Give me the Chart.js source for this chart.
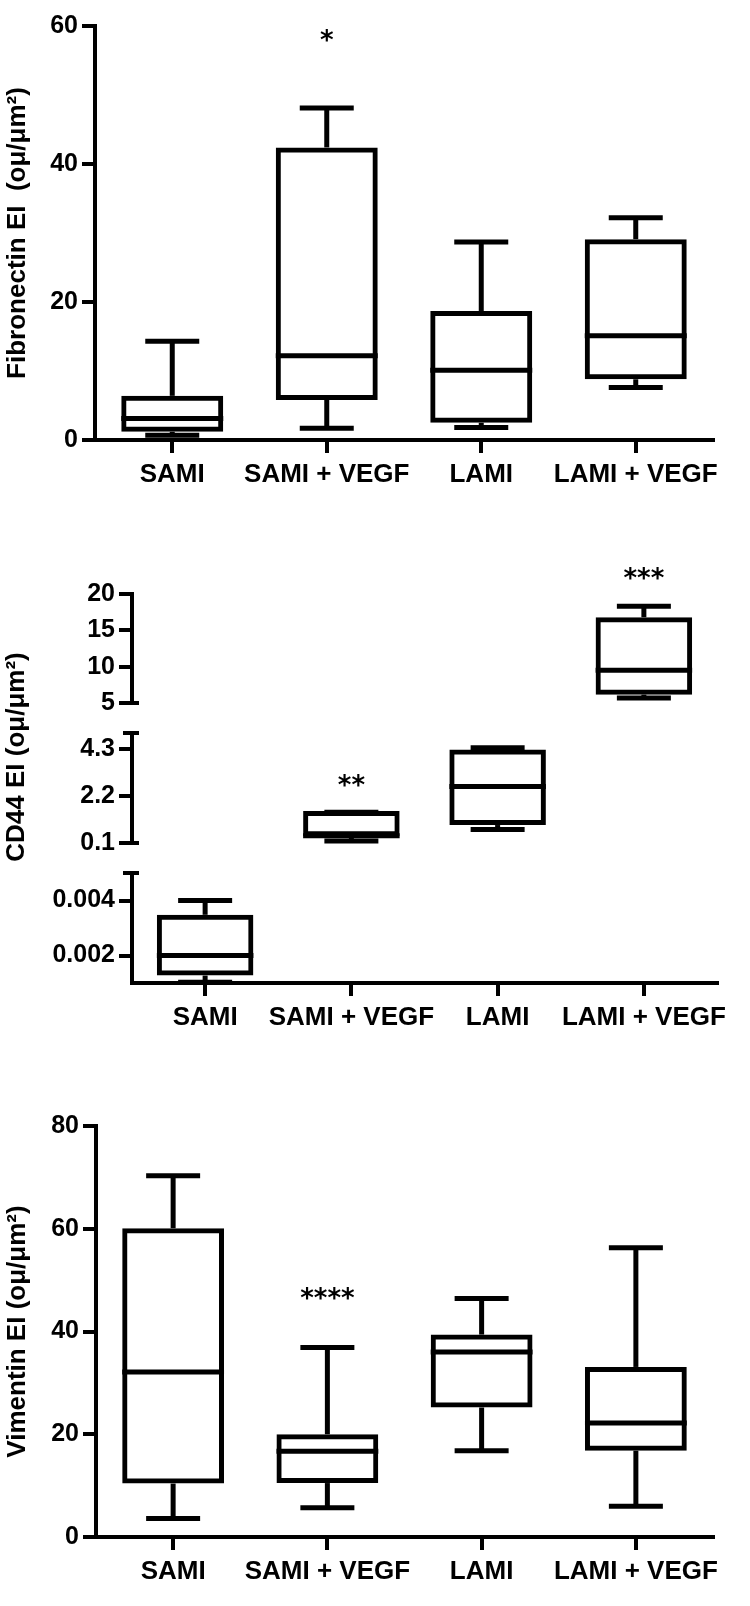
<!DOCTYPE html>
<html>
<head>
<meta charset="utf-8">
<title>Fibronectin, CD44, Vimentin EI</title>
<script src="https://cdn.jsdelivr.net/npm/chart.js@4.4.0/dist/chart.umd.min.js"></script>
<style>
  body { margin: 0; background: #fff; }
  .box { position: absolute; left: 0; width: 750px; }
</style>
</head>
<body>
<div class="box" style="top:0;height:505px"><canvas id="fib"></canvas></div>
<div class="box" style="top:530px;height:530px"><canvas id="cd44"></canvas></div>
<div class="box" style="top:1090px;height:516px"><canvas id="vim"></canvas></div>

<script>
var categories = ['SAMI', 'SAMI + VEGF', 'LAMI', 'LAMI + VEGF'];

// Fibronectin EI
var fibMin = [0.7, 1.7, 1.8, 7.6];
var fibQ1 = [1.2, 5.8, 2.5, 8.8];
var fibMedian = [3.1, 12.2, 10.1, 15.1];
var fibQ3 = [6.4, 42.4, 18.7, 29.1];
var fibMax = [14.3, 48.1, 28.7, 32.2];
var fibTicks = [0, 20, 40, 60];
var fibStars = ['', '*', '', ''];
var fibStarAt = [null, 58.7, null, null];

// CD44 EI - broken axis, each group sits on one segment
var cd44Segment = ['yLow', 'yMid', 'yMid', 'yHigh'];
var cd44Min = [0.00103, 0.19, 0.7, 5.7];
var cd44Q1 = [0.00127, 0.4, 0.9, 6.15];
var cd44Median = [0.002, 0.42, 2.62, 9.5];
var cd44Q3 = [0.00348, 1.52, 4.27, 16.8];
var cd44Max = [0.004, 1.47, 4.34, 18.3];
var cd44HighTicks = [5, 10, 15, 20];
var cd44MidTicks = [0.1, 2.2, 4.3];
var cd44LowTicks = [0.002, 0.004];
var cd44Stars = ['', '**', '', '***'];
var cd44StarAt = [null, 2.9, null, 22.9];

// Vimentin EI
var vimMin = [3.6, 5.7, 16.8, 6.0];
var vimQ1 = [10.4, 10.5, 25.2, 16.8];
var vimMedian = [32.1, 16.7, 36.0, 22.2];
var vimQ3 = [60.1, 20.0, 39.4, 33.1];
var vimMax = [70.3, 36.9, 46.4, 56.3];
var vimTicks = [0, 20, 40, 60, 80];
var vimStars = ['', '****', '', ''];
var vimStarAt = [null, 47.5, null, null];

Chart.defaults.font.family = "'Liberation Sans', Arial, sans-serif";
Chart.defaults.color = '#000';

function line(ctx, x1, y1, x2, y2) {
    ctx.beginPath();
    ctx.moveTo(x1, y1);
    ctx.lineTo(x2, y2);
    ctx.stroke();
}

// whiskers, medians, stars and the little caps of the broken axis
var boxWhiskers = {
    id: 'boxWhiskers',
    afterDatasetsDraw: function(chart, args, opts) {
        var ctx = chart.ctx;
        ctx.save();
        ctx.strokeStyle = '#000';
        ctx.fillStyle = '#000';
        ctx.lineWidth = 5;
        var starScale = [];
        chart.data.datasets.forEach(function(ds, d) {
            var meta = chart.getDatasetMeta(d);
            var y = chart.scales[meta.yAxisID];
            meta.data.forEach(function(bar, i) {
                if (ds.data[i] == null) return;
                starScale[i] = y;
                var p = bar.getProps(['x', 'width'], true);
                var cap = 27;
                var yMax = y.getPixelForValue(opts.max[i]);
                var yQ3 = y.getPixelForValue(ds.data[i][1]);
                var yQ1 = y.getPixelForValue(ds.data[i][0]);
                var yMin = y.getPixelForValue(opts.min[i]);
                var yMed = y.getPixelForValue(opts.median[i]);
                line(ctx, p.x, yQ3, p.x, yMax);
                line(ctx, p.x - cap, yMax, p.x + cap, yMax);
                line(ctx, p.x, yQ1, p.x, yMin);
                line(ctx, p.x - cap, yMin, p.x + cap, yMin);
                line(ctx, p.x - p.width / 2, yMed, p.x + p.width / 2, yMed);
            });
        });
        var xs = chart.scales.x;
        ctx.font = "bold 26px 'DejaVu Sans'";
        ctx.textAlign = 'center';
        ctx.textBaseline = 'alphabetic';
        opts.stars.forEach(function(s, i) {
            if (!s) return;
            var ys = starScale[i];
            ctx.fillText(s, xs.getPixelForValue(i), ys.getPixelForValue(opts.starAt[i]) + 14);
        });
        if (opts.caps) {
            ctx.lineWidth = 4;
            var ax = chart.chartArea.left;
            opts.caps.forEach(function(c) {
                var py = chart.scales[c[0]].getPixelForValue(c[1]);
                line(ctx, ax - 9, py, ax + 7, py);
            });
        }
        if (opts.title) {
            ctx.font = "bold 26px 'Liberation Sans', Arial, sans-serif";
            ctx.textBaseline = 'middle';
            ctx.translate(opts.title.x, opts.title.y);
            ctx.rotate(-Math.PI / 2);
            ctx.fillText(opts.title.text, 0, 0);
        }
        ctx.restore();
    }
};

function tickList(list) {
    return function(scale) {
        scale.ticks = list.map(function(v) { return { value: v }; });
    };
}

function yAxis(width, extra) {
    var base = {
        position: 'left',
        afterFit: function(s) { s.width = width; },
        border: { color: '#000', width: 4 },
        grid: { drawOnChartArea: false, color: '#000', tickColor: '#000', lineWidth: 4, tickWidth: 4, tickLength: 13 },
        ticks: {
            color: '#000', padding: 4, autoSkip: false,
            font: { size: 25, weight: 'bold' },
            callback: function(v) { return String(v); }
        }
    };
    return Object.assign(base, extra);
}

function xAxis(height) {
    return {
        offset: true,
        afterFit: function(s) { s.height = height; },
        border: { color: '#000', width: 4 },
        grid: { offset: false, drawOnChartArea: false, color: '#000', tickColor: '#000', lineWidth: 4, tickWidth: 4, tickLength: 13 },
        ticks: { color: '#000', padding: 6, autoSkip: false, maxRotation: 0, font: { size: 26, weight: 'bold' } }
    };
}

function boxDataset(q1, q3, axisId, filter) {
    return {
        data: categories.map(function(c, i) {
            return (!filter || filter[i] === axisId) ? [q1[i], q3[i]] : null;
        }),
        yAxisID: axisId,
        grouped: false,
        backgroundColor: 'rgba(0,0,0,0)',
        borderColor: '#000',
        borderWidth: 5,
        borderSkipped: false,
        barPercentage: 0.66,
        categoryPercentage: 1
    };
}

function baseOptions(padding, scales, plug) {
    return {
        responsive: true,
        maintainAspectRatio: false,
        animation: false,
        layout: { padding: padding },
        plugins: { legend: { display: false }, tooltip: { enabled: false }, boxWhiskers: plug },
        scales: scales
    };
}

var titleOpts = function(text) {
    return { display: true, text: text, color: '#000', font: { size: 26, weight: 'bold' }, padding: { top: 2, bottom: 0 } };
};

// Fibronectin
new Chart(document.getElementById('fib'), {
    type: 'bar',
    data: { labels: categories, datasets: [boxDataset(fibQ1, fibQ3, 'y')] },
    options: baseOptions({ top: 26, right: 37, bottom: 0, left: 0 }, {
        x: xAxis(65),
        y: yAxis(95, { min: 0, max: 60, afterBuildTicks: tickList(fibTicks), title: titleOpts('Fibronectin EI  (oμ/μm²)') })
    }, { min: fibMin, median: fibMedian, max: fibMax, stars: fibStars, starAt: fibStarAt }),
    plugins: [boxWhiskers]
});

// CD44 with a three-part y axis
var gap = function(w, sw) {
    return {
        position: 'left', stack: 'cd44', stackWeight: sw, weight: w, min: 0, max: 1,
        afterFit: function(s) { s.width = 132; },
        grid: { display: false }, border: { display: false }, ticks: { display: false }
    };
};
new Chart(document.getElementById('cd44'), {
    type: 'bar',
    data: {
        labels: categories,
        datasets: [
            boxDataset(cd44Q1, cd44Q3, 'yLow', cd44Segment),
            boxDataset(cd44Q1, cd44Q3, 'yMid', cd44Segment),
            boxDataset(cd44Q1, cd44Q3, 'yHigh', cd44Segment)
        ]
    },
    options: baseOptions({ top: 64, right: 33, bottom: 0, left: 0 }, {
        x: xAxis(77),
        yHigh: yAxis(132, { stack: 'cd44', stackWeight: 109, weight: 5, min: 5, max: 20, afterBuildTicks: tickList(cd44HighTicks) }),
        gapA: gap(4, 30),
        yMid: yAxis(132, { stack: 'cd44', stackWeight: 110, weight: 3, min: 0.1, max: 5.0, afterBuildTicks: tickList(cd44MidTicks) }),
        gapB: gap(2, 30),
        yLow: yAxis(132, { stack: 'cd44', stackWeight: 110, weight: 1, min: 0.001, max: 0.005, afterBuildTicks: tickList(cd44LowTicks) })
    }, {
        min: cd44Min, median: cd44Median, max: cd44Max, stars: cd44Stars, starAt: cd44StarAt,
        caps: [['yHigh', 5], ['yMid', 5.0], ['yMid', 0.1], ['yLow', 0.005]],
        title: { text: 'CD44 EI (oμ/μm²)', x: 17, y: 227 }
    }),
    plugins: [boxWhiskers]
});

// Vimentin
new Chart(document.getElementById('vim'), {
    type: 'bar',
    data: { labels: categories, datasets: [boxDataset(vimQ1, vimQ3, 'y')] },
    options: baseOptions({ top: 36, right: 37, bottom: 0, left: 0 }, {
        x: xAxis(69),
        y: yAxis(96, { min: 0, max: 80, afterBuildTicks: tickList(vimTicks), title: titleOpts('Vimentin EI (oμ/μm²)') })
    }, { min: vimMin, median: vimMedian, max: vimMax, stars: vimStars, starAt: vimStarAt }),
    plugins: [boxWhiskers]
});
</script>
</body>
</html>
